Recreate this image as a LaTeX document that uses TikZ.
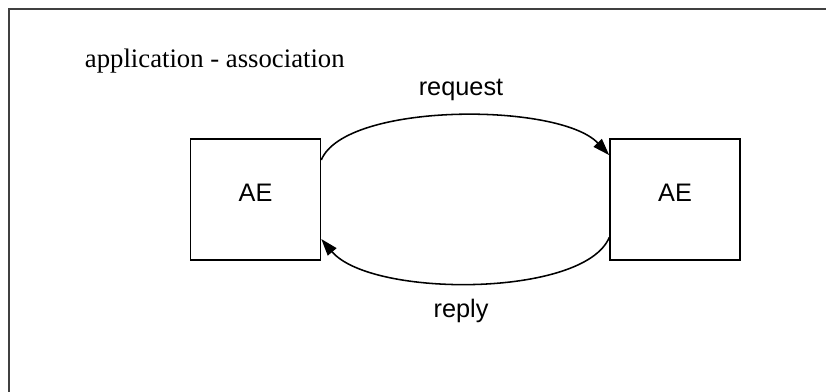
\documentclass[tikz,border=0pt]{standalone}
\usepackage{fontspec}
\setmainfont{Liberation Serif}
\setsansfont{Liberation Sans}
\usetikzlibrary{arrows.meta}

\begin{document}
\begin{tikzpicture}[x=0.025cm, y=-0.025cm,
        every node/.style={font=\sffamily\fontsize{18}{22}\selectfont},
        entity/.style={draw, line width=1.1pt, minimum width=3.25cm, minimum height=3.03cm, text depth=0.35cm},
        flow/.style={line width=1.1pt, -{Triangle[length=12pt, width=8pt]}}]
        \useasboundingbox (0,0) rectangle (826,392);

        % outer frame (open at right and bottom)
        \draw[line width=1.2pt, black!75] (9,392) -- (9,9) -- (826,9);
        \node[anchor=base west, font=\rmfamily\fontsize{19}{22}\selectfont] (title) at (80,68) {application - association};

        % the two application entities
        \node[entity] (aeL) at (255.5,199.5) {AE};
        \node[entity] (aeR) at (675,199.5) {AE};

        % request and reply
        \draw[flow] (aeL.31) .. controls +(24,-58) and +(-50,-53) .. (aeR.146);
        \draw[flow] (aeR.210) .. controls +(-25,60) and +(50,59) .. (aeL.-31);
        \node (req) at (461,90) {request};
        \node (rep) at (461,311) {reply};
    \end{tikzpicture}
\end{document}
